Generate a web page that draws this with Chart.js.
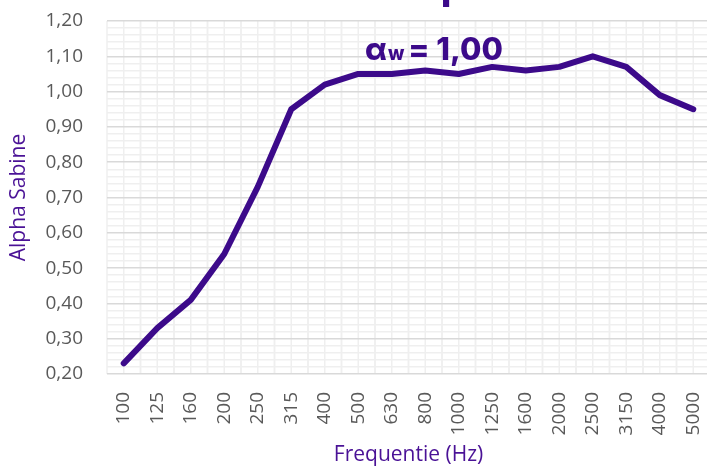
<!DOCTYPE html>
<html>
<head>
<meta charset="utf-8">
<script src="https://cdn.jsdelivr.net/npm/chart.js@4.4.0/dist/chart.umd.min.js"></script>
<style>
    html, body { margin: 0; padding: 0; background: #fff; overflow: hidden; }
    #wrap { position: relative; width: 710px; height: 468px; }
</style>
</head>
<body>
<div id="wrap"><canvas id="chart" width="710" height="468"></canvas></div>
<script>
// Frequency bands (Hz) and measured absorption
const frequencies = ['100', '125', '160', '200', '250', '315', '400', '500', '630',
                     '800', '1000', '1250', '1600', '2000', '2500', '3150', '4000', '5000'];
const alphaSabine = [0.23, 0.33, 0.41, 0.54, 0.73, 0.95, 1.02, 1.05, 1.05,
                     1.06, 1.05, 1.07, 1.06, 1.07, 1.10, 1.07, 0.99, 0.95];
const yRange = [0.20, 1.20];
const yMajorStep = 0.10;
const yMinorStep = 0.02;
const ratingText = { symbol: 'α', sub: 'w', value: '= 1,00' };

const purple = '#3c0a8a';
const tickGrey = '#595959';

const isMajor = v => Math.round(v * 100) % Math.round(yMajorStep * 100) === 0;

// white background + vertical grid (at category centres and boundaries)
const backgroundGrid = {
    id: 'backgroundGrid',
    beforeDraw(chart) {
        const { ctx, chartArea, scales } = chart;
        ctx.save();
        ctx.fillStyle = '#fff';
        ctx.fillRect(0, 0, chart.width, chart.height);
        const xs = scales.x;
        const half = (xs.getPixelForValue(1) - xs.getPixelForValue(0)) / 2;
        ctx.strokeStyle = '#efefef';
        ctx.lineWidth = 1.5;
        frequencies.forEach((f, i) => {
            const c = xs.getPixelForValue(i);
            [c - half, c, c + half].forEach(x => {
                ctx.beginPath();
                ctx.moveTo(x, chartArea.top);
                ctx.lineTo(x, chartArea.bottom);
                ctx.stroke();
            });
        });
        ctx.restore();
    }
};

// the alpha_w annotation and the clipped title above the plot
const ratingLabel = {
    id: 'ratingLabel',
    afterDatasetsDraw(chart) {
        const { ctx } = chart;
        ctx.save();
        ctx.fillStyle = purple;
        ctx.textBaseline = 'alphabetic';
        // bit of title cut off at the top edge
        ctx.font = '800 36px Inter';
        ctx.fillText('p', 441, 0);

        let x = 365;
        const base = 60;
        ctx.font = '800 31px Inter';
        ctx.fillText(ratingText.symbol, x, base);
        x += ctx.measureText(ratingText.symbol).width + 1;
        ctx.font = '800 19px Inter';
        ctx.fillText(ratingText.sub, x, base);
        x += ctx.measureText(ratingText.sub).width + 4;
        ctx.font = '800 31px Inter';
        ctx.fillText(ratingText.value, x, base);
        ctx.restore();
    }
};

new Chart(document.getElementById('chart'), {
    type: 'line',
    data: {
        labels: frequencies,
        datasets: [{
            data: alphaSabine,
            borderColor: purple,
            borderWidth: 6,
            pointRadius: 0,
            tension: 0,
            fill: false,
            borderJoinStyle: 'round',
            borderCapStyle: 'round'
        }]
    },
    options: {
        responsive: false,
        animation: false,
        devicePixelRatio: 1,
        layout: { padding: { top: 21, right: 0, left: 0, bottom: 0 } },
        plugins: {
            legend: { display: false },
            tooltip: { enabled: false }
        },
        scales: {
            x: {
                offset: true,
                grid: { display: false },
                border: { display: false },
                ticks: {
                    color: tickGrey,
                    font: { family: 'Open Sans', size: 19 },
                    minRotation: 90,
                    maxRotation: 90,
                    autoSkip: false,
                    padding: 10
                },
                title: {
                    display: true,
                    text: 'Frequentie (Hz)',
                    color: '#4a1296',
                    font: { family: 'Open Sans', size: 21 },
                    padding: { top: 0, bottom: 0 }
                },
                afterFit: s => {
                    s.height = 94;
                    s.paddingLeft = 0;
                    s.paddingRight = 0;
                }
            },
            y: {
                min: yRange[0],
                max: yRange[1],
                border: { display: false },
                grid: {
                    drawTicks: false,
                    color: c => isMajor(c.tick.value) ? '#d9d9d9' : '#efefef',
                    lineWidth: 1.5
                },
                ticks: {
                    stepSize: yMinorStep,
                    autoSkip: false,
                    color: tickGrey,
                    font: { family: 'Open Sans', size: 19 },
                    padding: 24,
                    callback: v => isMajor(v) ? v.toFixed(2).replace('.', ',') : ''
                },
                title: {
                    display: true,
                    text: 'Alpha Sabine',
                    color: '#4a1296',
                    font: { family: 'Open Sans', size: 21 },
                    padding: { top: 6, bottom: 0 }
                },
                afterFit: s => {
                    s.width = 107;
                    s.paddingTop = 0;
                    s.paddingBottom = 0;
                }
            }
        }
    },
    plugins: [backgroundGrid, ratingLabel]
});
</script>
</body>
</html>
